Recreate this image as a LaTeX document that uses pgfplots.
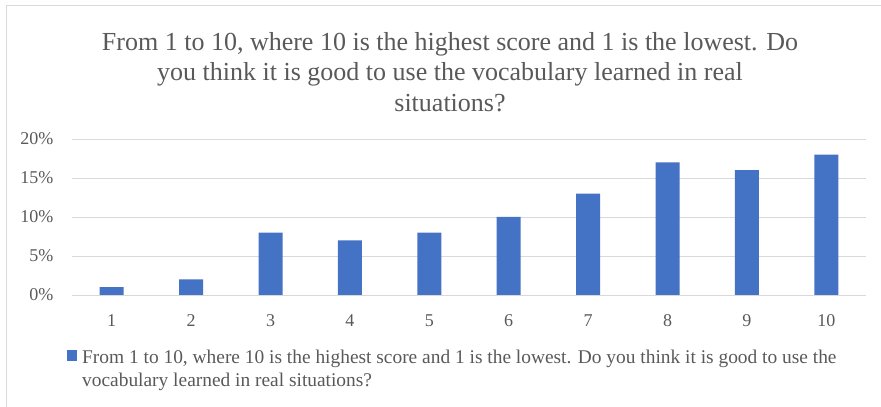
\documentclass[border=0pt]{standalone}
\usepackage{fontspec}
\setmainfont{Liberation Serif}
\newfontfamily\chartfont{Liberation Serif}
\usepackage{pgfplots}
\pgfplotsset{compat=1.18}
\definecolor{barblue}{HTML}{4472C4}
\definecolor{txtgray}{HTML}{595959}
\definecolor{gridgray}{HTML}{D9D9D9}
\begin{document}
\begin{tikzpicture}[x=1pt,y=1pt]
% chart frame (only top and left edges are visible)
\path[use as bounding box] (0,0) rectangle (881,407);
\draw[gridgray, line width=1pt] (6.5,0) -- (6.5,401.5) -- (881,401.5);
\begin{axis}[
  at={(72pt,112pt)}, anchor=south west,
  scale only axis,
  width=794pt, height=156pt,
  xmin=0.5, xmax=10.5,
  ymin=0, ymax=20,
  xtick=data,
  ytick={0,5,10,15,20},
  yticklabel={\pgfmathprintnumber{\tick}\%},
  /pgf/number format/assume math mode=true,
  ymajorgrids,
  grid style={gridgray, line width=0.9pt},
  axis line style={draw=none},
  major tick length=0pt,
  ticklabel style={font=\chartfont\fontsize{18}{21}\selectfont, text=txtgray},
  yticklabel style={xshift=-15pt},
  xticklabel style={yshift=-16pt},
  clip=false,
]
\addplot[ybar, bar width=24pt, fill=barblue, draw=none] coordinates {
  (1,1) (2,2) (3,8) (4,7) (5,8) (6,10) (7,13) (8,17) (9,16) (10,18)
};
\end{axis}
% title
\node[align=center, text=txtgray, font=\chartfont\fontsize{26}{30.5}\selectfont] at (450,335)
  {From 1 to 10, where 10 is the highest score and 1 is the lowest. Do\\
   you think it is good to use the vocabulary learned in real\\
   situations?};
% legend
\fill[barblue] (67,46) rectangle (77,57);
\node[anchor=north west, align=left, text=txtgray, font=\chartfont\fontsize{19.4}{23}\selectfont, inner sep=0pt] at (82,57)
  {From 1 to 10, where 10 is the highest score and 1 is the lowest. Do you think it is good to use the\\
   vocabulary learned in real situations?};
\end{tikzpicture}
\end{document}
